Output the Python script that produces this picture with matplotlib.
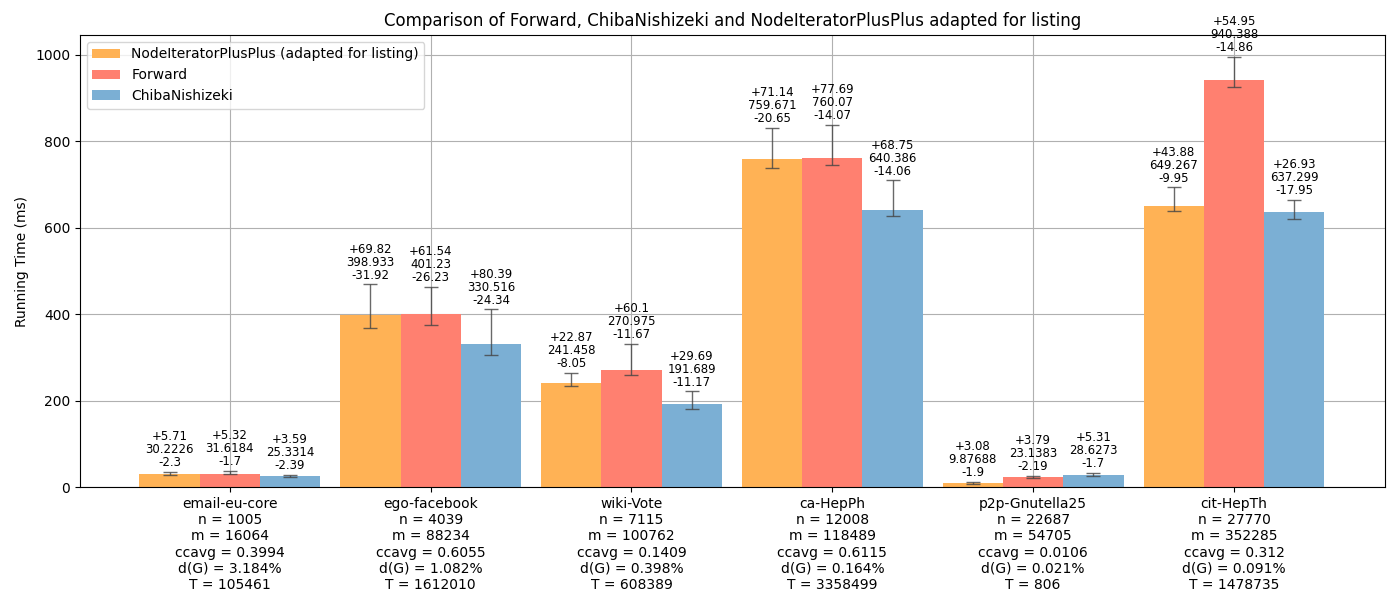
import numpy as np
import matplotlib.pyplot as plt

graphs = ["email-eu-core", "ego-facebook", "wiki-Vote", "ca-HepPh", "p2p-Gnutella25", "cit-HepTh"]
n_vals = [1005, 4039, 7115, 12008, 22687, 27770]
m_vals = [16064, 88234, 100762, 118489, 54705, 352285]
ccavg = ["0.3994", "0.6055", "0.1409", "0.6115", "0.0106", "0.312"]
density = ["3.184%", "1.082%", "0.398%", "0.164%", "0.021%", "0.091%"]
triangles = [105461, 1612010, 608389, 3358499, 806, 1478735]

series = ["NodeIteratorPlusPlus (adapted for listing)", "Forward", "ChibaNishizeki"]
means = [
    [30.2226, 398.933, 241.458, 759.671, 9.87688, 649.267],
    [31.6184, 401.23, 270.975, 760.07, 23.1383, 940.388],
    [25.3314, 330.516, 191.689, 640.386, 28.6273, 637.299],
]
upper = [
    [5.71, 69.82, 22.87, 71.14, 3.08, 43.88],
    [5.32, 61.54, 60.1, 77.69, 3.79, 54.95],
    [3.59, 80.39, 29.69, 68.75, 5.31, 26.93],
]
lower = [
    [2.3, 31.92, 8.05, 20.65, 1.9, 9.95],
    [1.7, 26.23, 11.67, 14.07, 2.19, 14.86],
    [2.39, 24.34, 11.17, 14.06, 1.7, 17.95],
]
colors = ["#ffb255", "#ff8070", "#7bafd4"]

fig, ax = plt.subplots(figsize=(14, 6), dpi=100)
fig.subplots_adjust(left=0.057, right=0.989, top=0.942, bottom=0.188)
x = np.arange(len(graphs))
w = 0.3
for i in range(3):
    pos = x + (i - 1) * w
    ax.bar(pos, means[i], w, color=colors[i], label=series[i], zorder=2,
           yerr=[lower[i], upper[i]], capsize=5, ecolor="#444444",
           error_kw=dict(elinewidth=1, alpha=0.8))
    for j in range(len(graphs)):
        ax.annotate(f"+{upper[i][j]}\n{means[i][j]}\n-{lower[i][j]}",
                    (pos[j], means[i][j] + upper[i][j]), xytext=(0, 2),
                    textcoords="offset points", ha="center", va="bottom",
                    fontsize=8.5, linespacing=1.0)

labels = [f"{g}\nn = {n}\nm = {m}\nccavg = {c}\nd(G) = {d}\nT = {t}"
          for g, n, m, c, d, t in zip(graphs, n_vals, m_vals, ccavg, density, triangles)]
ax.set_xticks(x)
ax.set_xticklabels(labels)
ax.set_xlim(-0.747, 5.75)
ax.set_ylim(0, 1046)
ax.set_ylabel("Running Time (ms)")
ax.set_title("Comparison of Forward, ChibaNishizeki and NodeIteratorPlusPlus adapted for listing")
ax.grid(True, zorder=0)
ax.set_axisbelow(True)
ax.legend(loc="upper left")
plt.savefig("out.png")
